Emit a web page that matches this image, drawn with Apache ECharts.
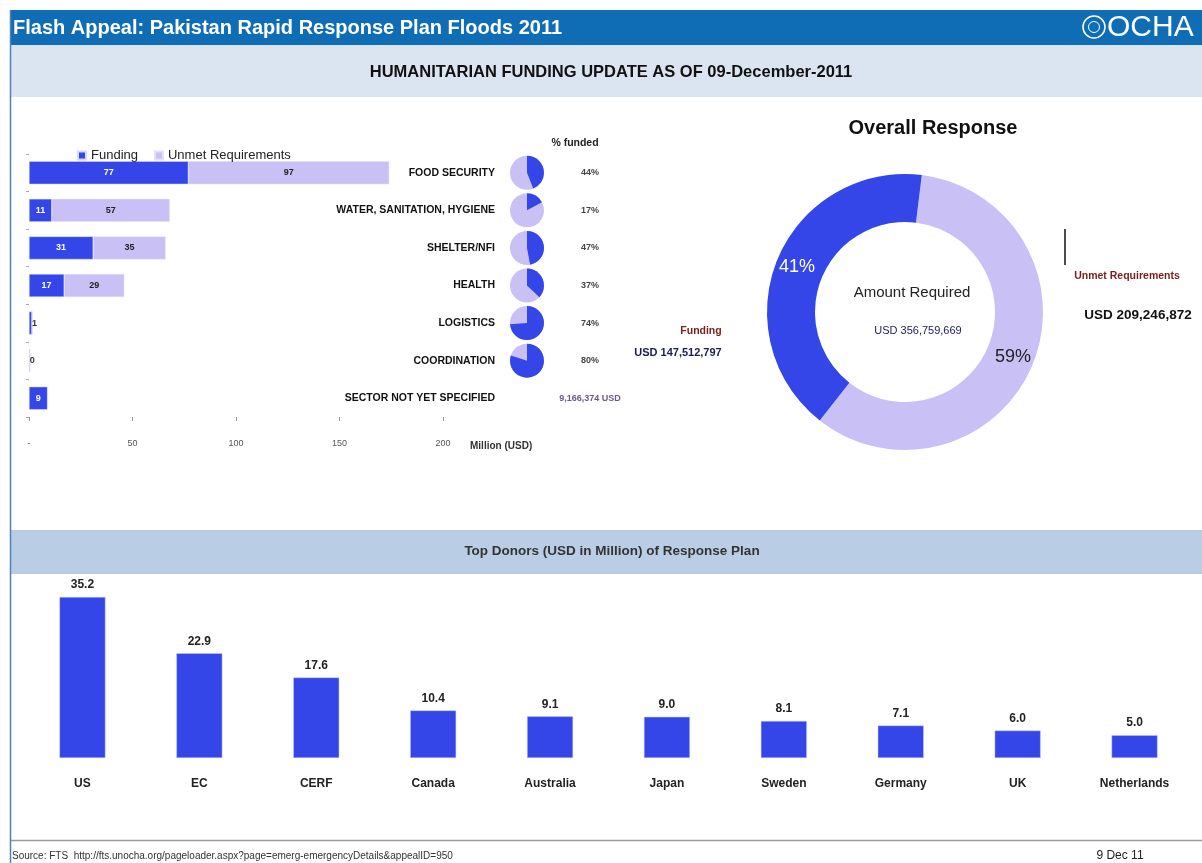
<!DOCTYPE html>
<html>
<head>
<meta charset="utf-8">
<script src="https://cdn.jsdelivr.net/npm/echarts@6/dist/echarts.min.js"></script>
<style>
  html, body { margin: 0; padding: 0; background: #fff; }
  #chart { width: 1202px; height: 863px; }
</style>
</head>
<body>
<div id="chart"></div>
<script>
const sectors = ['FOOD SECURITY', 'WATER, SANITATION, HYGIENE', 'SHELTER/NFI', 'HEALTH', 'LOGISTICS', 'COORDINATION', 'SECTOR NOT YET SPECIFIED'];
const sectorFunding = [77, 11, 31, 17, 1.4, 0.4, 9];
const sectorUnmet = [97, 57, 35, 29, 0.5, 0.1, 0];
const pctFunded = [44, 17, 47, 37, 74, 80, null];
const pctLabels = ['44%', '17%', '47%', '37%', '74%', '80%', '9,166,374 USD'];

const overallNames = ['Unmet Requirements', 'Funding'];
const overallValues = [209246872, 147512797];

const donors = ['US', 'EC', 'CERF', 'Canada', 'Australia', 'Japan', 'Sweden', 'Germany', 'UK', 'Netherlands'];
const donorValues = [35.2, 22.9, 17.6, 10.4, 9.1, 9.0, 8.1, 7.1, 6.0, 5.0];

const BLUE = '#3446e8';
const LILAC = '#c9c1f5';
const FONT = '"Liberation Sans", "DejaVu Sans", sans-serif';

const chartEl = document.getElementById('chart');
const chart = echarts.init(chartEl, null, { renderer: 'canvas' });

function usd(v) {
  return 'USD ' + v.toLocaleString('en-US');
}

const totalRequired = overallValues[0] + overallValues[1];

// tiny bars get their number drawn beside them in dark text
function fundingData() {
  return sectorFunding.map(v => v < 3
    ? { value: v, label: { position: 'right', distance: 0, color: '#333' } }
    : v);
}

const option = {
  animation: false,
  backgroundColor: '#ffffff',
  textStyle: { fontFamily: FONT },
  legend: {
    data: ['Funding', 'Unmet Requirements'],
    left: 72,
    top: 144,
    icon: 'rect',
    itemWidth: 8,
    itemHeight: 8,
    itemGap: 16,
    textStyle: { fontSize: 13, color: '#222', fontFamily: FONT }
  },
  grid: [
    { left: 29, top: 154, width: 414, height: 263 },
    { left: 503, top: 154, width: 150, height: 263 },
    { left: 24, right: 9, top: 575, bottom: 105 }
  ],
  xAxis: [
    {
      type: 'value',
      gridIndex: 0,
      min: 0,
      max: 200,
      interval: 50,
      name: 'Million (USD)',
      nameLocation: 'end',
      nameGap: 27,
      nameTextStyle: { fontSize: 10, fontWeight: 'bold', color: '#333', verticalAlign: 'top', padding: [24, 0, 0, 0] },
      axisLine: { show: false },
      axisTick: { show: true, length: 4, lineStyle: { color: '#999' } },
      splitLine: { show: false },
      axisLabel: {
        fontSize: 9,
        color: '#555',
        margin: 22,
        formatter: v => (v === 0 ? '-' : String(v))
      }
    },
    { type: 'value', gridIndex: 1, min: 0, max: 1, show: false },
    {
      type: 'category',
      gridIndex: 2,
      data: donors,
      axisLine: { show: false },
      axisTick: { show: false },
      axisLabel: { fontSize: 12, fontWeight: 'bold', color: '#222', margin: 20, fontFamily: FONT }
    }
  ],
  yAxis: [
    {
      type: 'category',
      gridIndex: 0,
      data: sectors,
      inverse: true,
      axisLine: { show: false },
      axisTick: { show: true, length: 3, lineStyle: { color: '#aaa' } },
      axisLabel: { show: false }
    },
    {
      type: 'category',
      gridIndex: 1,
      data: sectors,
      inverse: true,
      axisLine: { show: false },
      axisTick: { show: false },
      axisLabel: { fontSize: 10.5, fontWeight: 'bold', color: '#111', margin: 8, fontFamily: FONT }
    },
    { type: 'value', gridIndex: 2, min: 0, max: 40, show: false }
  ],
  series: [
    {
      name: 'Funding',
      type: 'bar',
      xAxisIndex: 0,
      yAxisIndex: 0,
      stack: 'sector',
      barWidth: 23,
      data: fundingData(),
      itemStyle: { color: BLUE, borderColor: '#d7dafc', borderWidth: 0.5 },
      label: {
        show: true,
        position: 'inside',
        fontSize: 9,
        fontWeight: 'bold',
        color: '#fff',
        formatter: p => String(Math.round(p.value))
      }
    },
    {
      name: 'Unmet Requirements',
      type: 'bar',
      xAxisIndex: 0,
      yAxisIndex: 0,
      stack: 'sector',
      barWidth: 23,
      data: sectorUnmet,
      itemStyle: { color: LILAC, borderColor: '#e4e0fb', borderWidth: 0.5 },
      label: {
        show: true,
        position: 'inside',
        fontSize: 9,
        fontWeight: 'bold',
        color: '#222',
        formatter: p => (p.value >= 1 ? String(Math.round(p.value)) : '')
      }
    },
    {
      name: 'pies',
      type: 'custom',
      xAxisIndex: 1,
      yAxisIndex: 1,
      data: sectors.map((s, i) => [0, i]),
      renderItem: (params, api) => {
        const idx = api.value(1);
        const pt = api.coord([0, idx]);
        const cx = pt[0] + 24;
        const cy = pt[1];
        const children = [];
        const pct = pctFunded[idx];
        if (pct !== null) {
          children.push({
            type: 'circle',
            shape: { cx, cy, r: 17 },
            style: { fill: LILAC }
          });
          children.push({
            type: 'sector',
            shape: {
              cx, cy, r0: 0, r: 17,
              startAngle: -Math.PI / 2,
              endAngle: -Math.PI / 2 + Math.PI * 2 * pct / 100,
              clockwise: true
            },
            style: { fill: BLUE }
          });
        }
        children.push({
          type: 'text',
          style: {
            x: pt[0] + 87,
            y: cy,
            text: pctLabels[idx],
            align: 'center',
            verticalAlign: 'middle',
            fontSize: 9,
            fontWeight: 'bold',
            fill: pct === null ? '#6a5a8a' : '#444',
            fontFamily: FONT
          }
        });
        return { type: 'group', children };
      }
    },
    {
      name: 'Overall',
      type: 'pie',
      center: [905, 312],
      radius: [90, 138],
      startAngle: 83,
      clockwise: true,
      percentPrecision: 0,
      data: overallNames.map((n, i) => ({
        name: n,
        value: overallValues[i],
        itemStyle: { color: i === 1 ? BLUE : LILAC },
        label: { color: i === 1 ? '#fff' : '#222' }
      })),
      label: {
        show: true,
        position: 'inside',
        formatter: '{d}%',
        fontSize: 18,
        fontFamily: FONT
      },
      labelLine: { show: false },
      emphasis: { disabled: true }
    },
    {
      name: 'Donors',
      type: 'bar',
      xAxisIndex: 2,
      yAxisIndex: 2,
      barWidth: 46,
      data: donorValues,
      itemStyle: { color: BLUE, borderColor: '#c9cdfa', borderWidth: 0.5 },
      label: {
        show: true,
        position: 'top',
        distance: 6,
        fontSize: 12,
        fontWeight: 'bold',
        color: '#222',
        formatter: p => p.value.toFixed(1)
      }
    }
  ],
  graphic: [
    { type: 'rect', z: -10, shape: { x: 10, y: 10, width: 1192, height: 35 }, style: { fill: '#0f6db6' } },
    { type: 'rect', z: -10, shape: { x: 10, y: 45, width: 1192, height: 52 }, style: { fill: '#dbe5f1' } },
    { type: 'line', z: -9, shape: { x1: 10.5, y1: 10, x2: 10.5, y2: 863 }, style: { stroke: '#4f81bd', lineWidth: 1.5 } },
    { type: 'rect', z: -10, shape: { x: 11, y: 530, width: 1191, height: 44 }, style: { fill: '#b9cde5' } },
    { type: 'line', shape: { x1: 11, y1: 840.5, x2: 1202, y2: 840.5 }, style: { stroke: '#9a9a9a', lineWidth: 1.5 } },
    { type: 'text', style: { x: 13, y: 28, text: 'Flash Appeal: Pakistan Rapid Response Plan Floods 2011', fontSize: 20, fontWeight: 'bold', fill: '#fff', verticalAlign: 'middle', fontFamily: FONT } },
    { type: 'circle', shape: { cx: 1094, cy: 27, r: 11 }, style: { fill: 'none', stroke: '#fff', lineWidth: 1.5 } },
    { type: 'circle', shape: { cx: 1094, cy: 27, r: 5.5 }, style: { fill: 'none', stroke: '#fff', lineWidth: 1 } },
    { type: 'text', style: { x: 1107, y: 28, text: 'OCHA', fontSize: 30, fill: '#fff', verticalAlign: 'middle', fontFamily: FONT } },
    { type: 'text', style: { x: 611, y: 72, text: 'HUMANITARIAN FUNDING UPDATE AS OF 09-December-2011', fontSize: 16.5, fontWeight: 'bold', fill: '#111', align: 'center', verticalAlign: 'middle', fontFamily: FONT } },
    { type: 'text', style: { x: 612, y: 551, text: 'Top Donors (USD in Million) of Response Plan', fontSize: 13.5, fontWeight: 'bold', fill: '#333', align: 'center', verticalAlign: 'middle', fontFamily: FONT } },
    { type: 'text', style: { x: 575, y: 143, text: '% funded', fontSize: 10.5, fontWeight: 'bold', fill: '#222', align: 'center', verticalAlign: 'middle', fontFamily: FONT } },
    { type: 'text', style: { x: 933, y: 128, text: 'Overall Response', fontSize: 20, fontWeight: 'bold', fill: '#111', align: 'center', verticalAlign: 'middle', fontFamily: FONT } },
    { type: 'text', style: { x: 912, y: 293, text: 'Amount Required', fontSize: 15, fill: '#222', align: 'center', verticalAlign: 'middle', fontFamily: FONT } },
    { type: 'text', style: { x: 918, y: 331, text: usd(totalRequired), fontSize: 11, fill: '#1a1a5a', align: 'center', verticalAlign: 'middle', fontFamily: FONT } },
    { type: 'text', style: { x: 701, y: 331, text: overallNames[1], fontSize: 10.5, fontWeight: 'bold', fill: '#7a1d1d', align: 'center', verticalAlign: 'middle', fontFamily: FONT } },
    { type: 'text', style: { x: 678, y: 353, text: usd(overallValues[1]), fontSize: 11, fontWeight: 'bold', fill: '#1a1a5a', align: 'center', verticalAlign: 'middle', fontFamily: FONT } },
    { type: 'line', shape: { x1: 1065, y1: 229, x2: 1065, y2: 265 }, style: { stroke: '#111', lineWidth: 1.5 } },
    { type: 'text', style: { x: 1127, y: 276, text: overallNames[0], fontSize: 10.5, fontWeight: 'bold', fill: '#7a1d1d', align: 'center', verticalAlign: 'middle', fontFamily: FONT } },
    { type: 'text', style: { x: 1138, y: 315, text: usd(overallValues[0]), fontSize: 13.5, fontWeight: 'bold', fill: '#111', align: 'center', verticalAlign: 'middle', fontFamily: FONT } },
    { type: 'text', style: { x: 12, y: 856, text: 'Source: FTS  http://fts.unocha.org/pageloader.aspx?page=emerg-emergencyDetails&appealID=950', fontSize: 10, fill: '#333', verticalAlign: 'middle', fontFamily: FONT } },
    { type: 'text', style: { x: 1120, y: 856, text: '9 Dec 11', fontSize: 12, fill: '#222', align: 'center', verticalAlign: 'middle', fontFamily: FONT } }
  ]
};

chart.setOption(option);
window.addEventListener('resize', () => chart.resize());
</script>
</body>
</html>
